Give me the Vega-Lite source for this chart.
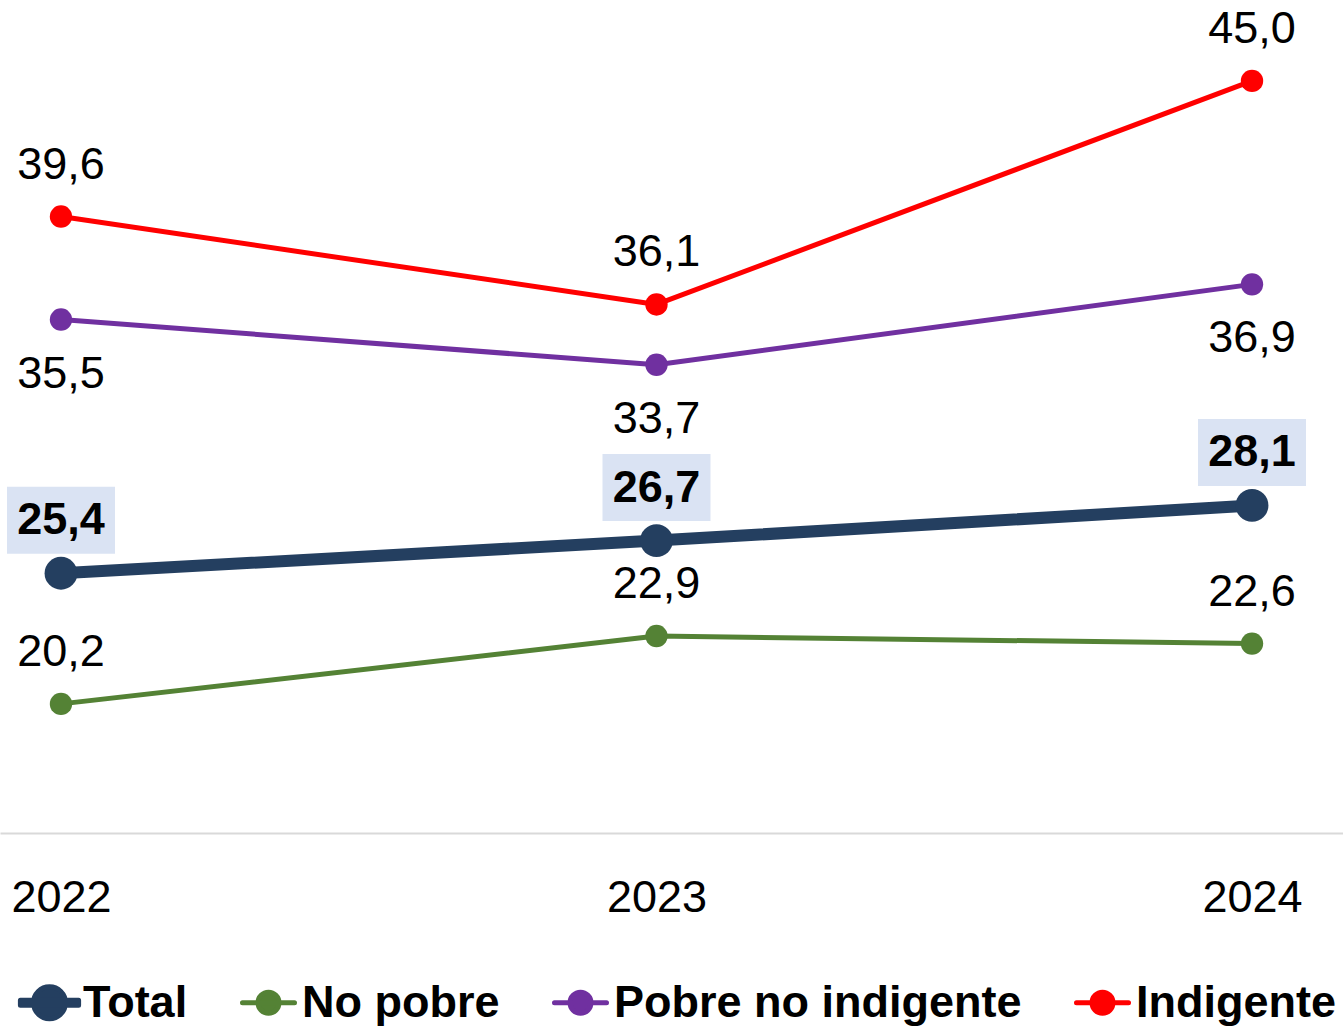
{
  "$schema": "https://vega.github.io/schema/vega-lite/v6.json",
  "width": 1343,
  "height": 833,
  "autosize": {"type": "none"},
  "padding": {"left": 0, "top": 0, "right": 0, "bottom": 193},
  "background": "white",
  "config": {
    "view": {"stroke": null},
    "locale": {"number": {"decimal": ",", "thousands": ".", "grouping": [3], "currency": ["", " €"]}}
  },
  "data": {
    "values": [
      {"year": 2022, "serie": "Total", "value": 25.4},
      {"year": 2023, "serie": "Total", "value": 26.7},
      {"year": 2024, "serie": "Total", "value": 28.1},
      {"year": 2022, "serie": "No pobre", "value": 20.2},
      {"year": 2023, "serie": "No pobre", "value": 22.9},
      {"year": 2024, "serie": "No pobre", "value": 22.6},
      {"year": 2022, "serie": "Pobre no indigente", "value": 35.5},
      {"year": 2023, "serie": "Pobre no indigente", "value": 33.7},
      {"year": 2024, "serie": "Pobre no indigente", "value": 36.9},
      {"year": 2022, "serie": "Indigente", "value": 39.6},
      {"year": 2023, "serie": "Indigente", "value": 36.1},
      {"year": 2024, "serie": "Indigente", "value": 45.0}
    ]
  },
  "encoding": {
    "x": {
      "field": "year", "type": "quantitative",
      "scale": {"domain": [2021.8976, 2024.1528], "nice": false, "zero": false},
      "axis": {
        "title": null, "values": [2022, 2023, 2024], "format": "d",
        "grid": false, "ticks": false, "tickSize": 0,
        "domainColor": "#D9D9D9", "domainWidth": 2,
        "labelFont": "Liberation Sans", "labelFontSize": 45, "labelColor": "#000000",
        "labelBaseline": "alphabetic", "labelPadding": 78, "labelFlush": false
      }
    },
    "y": {
      "field": "value", "type": "quantitative",
      "scale": {"domain": [15.06, 48.22], "nice": false, "zero": false},
      "axis": null
    }
  },
  "layer": [
    {
      "transform": [{"filter": "datum.serie === 'Total'"}],
      "mark": {"type": "point", "filled": true, "shape": "M-1,-0.62L1,-0.62L1,0.62L-1,0.62Z", "size": 11664, "fill": "#DAE3F3", "opacity": 1, "strokeWidth": 0, "yOffset": -53}
    },
    {
      "mark": {"type": "line", "strokeCap": "round", "strokeJoin": "round"},
      "encoding": {
        "color": {
          "field": "serie", "type": "nominal",
          "scale": {"domain": ["Total", "No pobre", "Pobre no indigente", "Indigente"], "range": ["#243F60", "#548235", "#7030A0", "#FF0000"]},
          "legend": {
            "title": null, "orient": "none", "direction": "horizontal",
            "legendX": 17, "legendY": 970,
            "symbolSize": 3600, "symbolStrokeWidth": 5, "labelOffset": 1, "columnPadding": 48,
            "labelFont": "Liberation Sans", "labelFontWeight": "bold", "labelFontSize": 45, "labelColor": "#000000", "labelLimit": 1000,
            "encode": {
              "symbols": {
                "update": {
                  "shape": {"signal": "datum.value === 'Total' ? 'M-0.97,-0.083L0.97,-0.083L0.97,0.083L-0.97,0.083ZM0.533,0A0.533,0.533,0,1,1,-0.533,0A0.533,0.533,0,1,1,0.533,0Z' : 'M-0.867,0L0.867,0M0.35,0A0.35,0.35,0,1,1,-0.35,0A0.35,0.35,0,1,1,0.35,0Z'"},
                  "size": {"value": 3600},
                  "fill": {"scale": "color", "field": "value"},
                  "stroke": {"scale": "color", "field": "value"},
                  "strokeWidth": {"value": 5},
                  "strokeCap": {"value": "round"},
                  "strokeJoin": {"value": "round"},
                  "opacity": {"value": 1},
                  "fillOpacity": {"value": 1},
                  "strokeOpacity": {"value": 1}
                }
              }
            }
          }
        },
        "strokeWidth": {"condition": {"test": "datum.serie === 'Total'", "value": 12}, "value": 5}
      }
    },
    {
      "mark": {"type": "point", "filled": true, "opacity": 1, "shape": "circle", "strokeWidth": 0},
      "encoding": {
        "color": {"field": "serie", "type": "nominal"},
        "size": {"condition": {"test": "datum.serie === 'Total'", "value": 1075}, "value": 500}
      }
    },
    {
      "transform": [{"filter": "datum.serie === 'Total'"}],
      "mark": {"type": "text", "font": "Liberation Sans", "fontSize": 45, "fontWeight": "bold", "color": "#000000", "baseline": "middle", "dy": -53},
      "encoding": {"text": {"field": "value", "type": "quantitative", "format": ".1f"}}
    },
    {
      "transform": [{"filter": "datum.serie === 'No pobre' || datum.serie === 'Indigente'"}],
      "mark": {"type": "text", "font": "Liberation Sans", "fontSize": 45, "color": "#000000", "baseline": "middle", "dy": -52},
      "encoding": {"text": {"field": "value", "type": "quantitative", "format": ".1f"}}
    },
    {
      "transform": [{"filter": "datum.serie === 'Pobre no indigente'"}],
      "mark": {"type": "text", "font": "Liberation Sans", "fontSize": 45, "color": "#000000", "baseline": "middle", "dy": 54},
      "encoding": {"text": {"field": "value", "type": "quantitative", "format": ".1f"}}
    }
  ]
}
